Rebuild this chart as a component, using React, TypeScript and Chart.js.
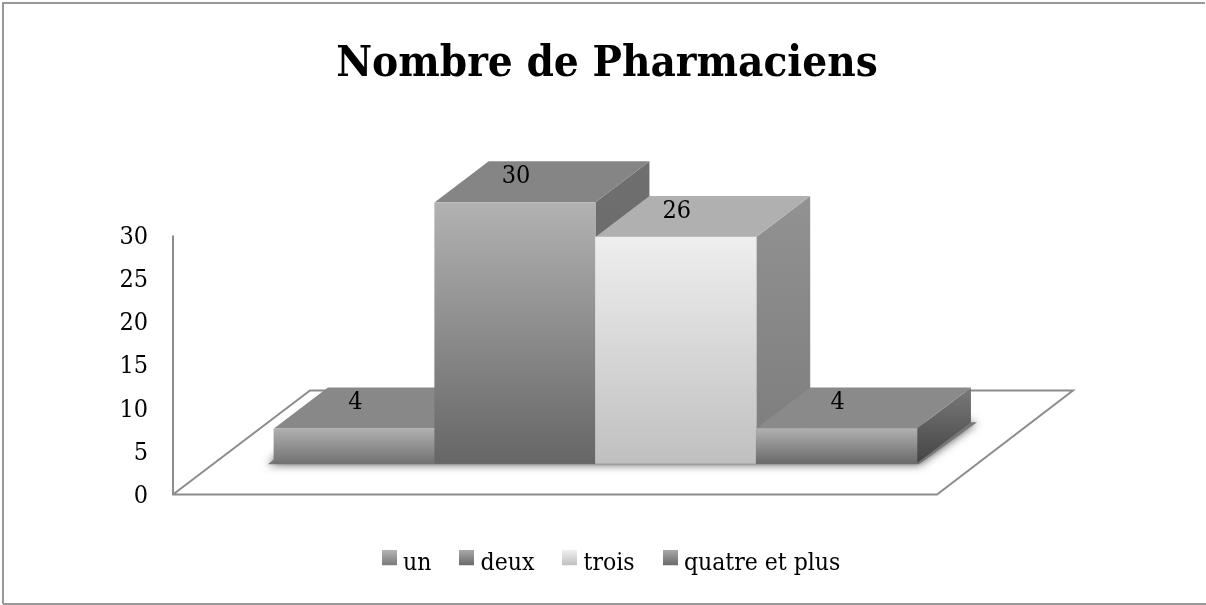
import React, { useEffect, useRef } from "react";
import { Chart, registerables } from "chart.js";

Chart.register(...registerables);

const titleText = "Nombre de Pharmaciens";
const categories = ["un", "deux", "trois", "quatre et plus"];
const values = [4, 30, 26, 4];
const positions = [1, 2, 3, 4];
const frontTop = ["#b0b0b0", "#b2b2b2", "#eeeeee", "#b0b0b0"];
const frontBottom = ["#727272", "#666666", "#c0c0c0", "#6a6a6a"];
const topFace = ["#888888", "#858585", "#b0b0b0", "#8a8a8a"];
const sideTop = ["#777777", "#6f6f6f", "#929292", "#7a7a7a"];
const sideBottom = ["#555555", "#666666", "#7c7c7c", "#444444"];
const legendTop = ["#b4b4b4", "#a8a8a8", "#f0f0f0", "#a8a8a8"];
const legendBottom = ["#7a7a7a", "#6a6a6a", "#c0c0c0", "#6a6a6a"];
const FONT = "'DejaVu Serif Condensed', 'DejaVu Serif', serif";
const DX = 54;
const DY = 41;
const LINE = "#8c8c8c";
const AXIS_LIFT = 2;
const LEGEND_SHIFT = 7;

function vGrad(ctx: CanvasRenderingContext2D, y0: number, y1: number, a: string, b: string) {
  const g = ctx.createLinearGradient(0, y0, 0, y1);
  g.addColorStop(0, a);
  g.addColorStop(1, b);
  return g;
}

function swatch(a: string, b: string) {
  const c = document.createElement("canvas");
  c.width = 15;
  c.height = 27;
  const x = c.getContext("2d")!;
  x.fillStyle = vGrad(x, 0, 15, a, b);
  x.fillRect(0, 0, 15, 15);
  return c;
}

const scene = {
  id: "scene",
  afterLayout(chart: any) {
    chart.legend.left += LEGEND_SHIFT;
    chart.legend.right += LEGEND_SHIFT;
  },
  beforeDraw(chart: any) {
    const { ctx, width, height } = chart;
    ctx.save();
    ctx.strokeStyle = "#989898";
    ctx.lineWidth = 2;
    ctx.beginPath();
    ctx.moveTo(3, height - 1);
    ctx.lineTo(3, 3);
    ctx.lineTo(width - 1, 3);
    ctx.moveTo(3, height - 1);
    ctx.lineTo(width, height - 1);
    ctx.stroke();
    ctx.restore();
  },
  beforeDatasetsDraw(chart: any) {
    const { ctx, chartArea, scales } = chart;
    const left = chartArea.left;
    const y0 = scales.y1.getPixelForValue(0) - AXIS_LIFT;
    const yTop = scales.y1.getPixelForValue(30) - AXIS_LIFT;
    ctx.save();
    // floor and axis wall
    ctx.strokeStyle = LINE;
    ctx.lineWidth = 2;
    ctx.beginPath();
    ctx.moveTo(left, yTop);
    ctx.lineTo(left, y0);
    ctx.lineTo(left + 764, y0);
    ctx.lineTo(left + 900, y0 - 104);
    ctx.lineTo(left + 137, y0 - 104);
    ctx.lineTo(left, y0);
    ctx.stroke();

    const bars = chart.getDatasetMeta(0).data;
    const L = bars[0].x - bars[0].width / 2;
    const R = bars[3].x + bars[3].width / 2;
    const B = bars[0].base;
    // soft shadow on the floor
    ctx.save();
    ctx.shadowColor = "rgba(0,0,0,0.7)";
    ctx.shadowBlur = 10;
    ctx.fillStyle = "#777777";
    ctx.beginPath();
    ctx.moveTo(L - 6, B + 1);
    ctx.lineTo(R + 2, B + 1);
    ctx.lineTo(R + DX + 6, B - DY);
    ctx.lineTo(R + DX - 4, B - DY);
    ctx.lineTo(L + 12, B - 14);
    ctx.closePath();
    ctx.fill();
    ctx.restore();

    // side and top faces, back to front
    bars.forEach((b: any, i: number) => {
      const l = b.x - b.width / 2;
      const r = b.x + b.width / 2;
      ctx.fillStyle = vGrad(ctx, b.y - DY, b.base, sideTop[i], sideBottom[i]);
      ctx.beginPath();
      ctx.moveTo(r, b.y);
      ctx.lineTo(r + DX, b.y - DY);
      ctx.lineTo(r + DX, b.base - DY);
      ctx.lineTo(r, b.base);
      ctx.closePath();
      ctx.fill();
      ctx.fillStyle = topFace[i];
      ctx.beginPath();
      ctx.moveTo(l, b.y);
      ctx.lineTo(l + DX, b.y - DY);
      ctx.lineTo(r + DX, b.y - DY);
      ctx.lineTo(r, b.y);
      ctx.closePath();
      ctx.fill();
    });
    ctx.restore();
  },
  afterDatasetsDraw(chart: any) {
    const { ctx } = chart;
    const bars = chart.getDatasetMeta(0).data;
    ctx.save();
    ctx.fillStyle = "#000000";
    ctx.font = `25px ${FONT}`;
    ctx.textAlign = "center";
    ctx.textBaseline = "middle";
    bars.forEach((b: any, i: number) => {
      ctx.fillText(String(values[i]), b.x + 1, b.y - 26);
    });
    ctx.restore();
  },
};

export default function App() {
  const ref = useRef<HTMLCanvasElement>(null);
  useEffect(() => {
    document.body.style.margin = "0";
    document.body.style.background = "#ffffff";
    const canvas = ref.current!;
    const ctx2d = canvas.getContext("2d")!;
    const chart = new Chart(canvas, {
      type: "bar",
      data: {
        labels: categories,
        datasets: [
          {
            label: titleText,
            data: positions.map((x, i) => ({ x, y: values[i] })),
            yAxisID: "y",
            barPercentage: 1,
            categoryPercentage: 1,
            borderWidth: 0,
            backgroundColor: (c: any) => {
              if (c.dataIndex === undefined) return "#999999";
              const a = c.chart.scales.y;
              const top = a.getPixelForValue(values[c.dataIndex]);
              const base = a.getPixelForValue(0);
              return vGrad(ctx2d, top, base, frontTop[c.dataIndex], frontBottom[c.dataIndex]);
            },
          },
        ],
      },
      options: {
        animation: false,
        responsive: false,
        events: [],
        layout: { padding: { left: 8, right: 0, top: 0, bottom: 19 } },
        scales: {
          x: {
            type: "linear",
            offset: false,
            min: -0.128,
            max: 6.298,
            display: true,
            grid: { display: false, offset: false },
            border: { display: false },
            ticks: { display: false },
            afterFit: (s: any) => {
              s.height = 19;
            },
          },
          y: {
            type: "linear",
            display: false,
            min: -4.04,
            max: 30,
          },
          y1: {
            type: "linear",
            position: "left",
            min: -0.23,
            max: 34.07,
            grid: { display: false },
            border: { display: false },
            ticks: {
              stepSize: 5,
              includeBounds: false,
              autoSkip: false,
              padding: 17,
              color: "#000000",
              font: { family: FONT, size: 25 },
            },
            afterFit: (s: any) => {
              s.width = 165;
            },
          },
        },
        plugins: {
          tooltip: { enabled: false },
          title: {
            display: true,
            text: titleText,
            color: "#000000",
            font: { family: FONT, size: 43.6, weight: "bold", lineHeight: 1.2 },
            padding: { top: 39, bottom: 111 },
          },
          legend: {
            display: true,
            position: "bottom",
            labels: {
              color: "#000000",
              usePointStyle: true,
              boxWidth: 3,
              boxHeight: 15,
              padding: 34,
              font: { family: FONT, size: 24.5 },
              generateLabels: () =>
                categories.map((text, i) => ({
                  text,
                  pointStyle: swatch(legendTop[i], legendBottom[i]),
                  fillStyle: legendTop[i],
                  strokeStyle: "transparent",
                  lineWidth: 0,
                  fontColor: "#000000",
                  hidden: false,
                  index: i,
                })),
            },
          },
        },
      },
      plugins: [scene],
    } as any);
    return () => chart.destroy();
  }, []);
  return (
    <div style={{ width: 1206, height: 605 }}>
      <canvas ref={ref} width={1206} height={605} style={{ display: "block" }} />
    </div>
  );
}
